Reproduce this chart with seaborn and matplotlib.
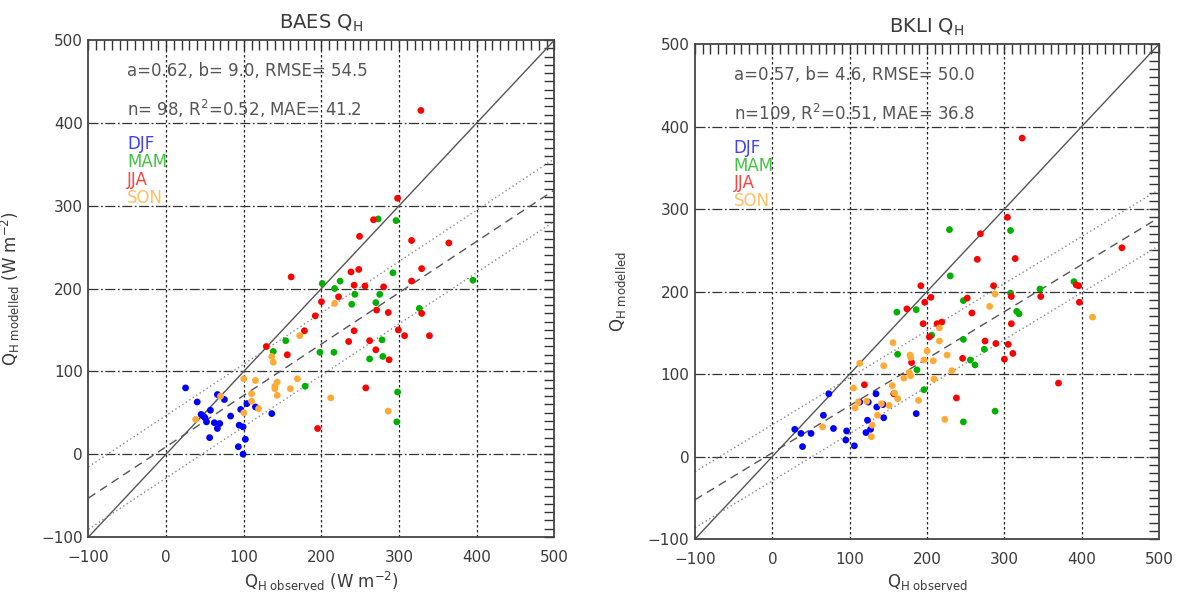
import matplotlib
matplotlib.use("Agg")
import matplotlib.pyplot as plt
from matplotlib.ticker import MultipleLocator
import seaborn as sns
import pandas as pd

# season colours
seasons = ["DJF", "MAM", "JJA", "SON"]
season_colors = {"DJF": "#0000ff", "MAM": "#00b000", "JJA": "#ff0000", "SON": "#ffaa33"}

# BAES
baes_djf_obs = [25, 40, 66, 75, 57, 45, 48, 50, 52, 62, 69, 66, 83, 56, 96, 104, 115, 136, 94, 99, 102, 93, 99]
baes_djf_mod = [80, 63, 72, 66, 53, 48, 46, 44, 39, 38, 37, 31, 46, 20, 54, 61, 57, 49, 35, 33, 18, 9, 0]
baes_mam_obs = [138, 154, 179, 198, 216, 239, 270, 278, 262, 279, 326, 298, 297, 273, 296, 292, 201, 224, 395, 217, 243, 275]
baes_mam_mod = [124, 137, 82, 123, 123, 181, 183, 138, 115, 118, 176, 75, 39, 284, 282, 219, 206, 209, 210, 200, 193, 193]
baes_jja_obs = [129, 156, 178, 192, 200, 222, 242, 235, 262, 271, 286, 270, 287, 299, 307, 329, 339, 257, 195, 328,
                298, 267, 249, 316, 364, 161, 238, 248, 329, 242, 256, 280, 316]
baes_jja_mod = [130, 120, 149, 167, 184, 190, 149, 136, 137, 174, 171, 126, 114, 150, 143, 170, 143, 80, 31, 415,
                309, 283, 263, 258, 255, 214, 220, 223, 224, 204, 203, 202, 209]
baes_son_obs = [38, 70, 100, 100, 110, 110, 115, 119, 136, 138, 140, 140, 143, 143, 160, 169, 172, 212, 286, 217]
baes_son_mod = [42, 70, 91, 50, 73, 64, 89, 55, 118, 111, 82, 79, 87, 71, 79, 91, 143, 68, 52, 182]

# BKLI
bkli_djf_obs = [29, 37, 50, 39, 73, 66, 79, 96, 95, 106, 121, 127, 123, 134, 135, 143, 144, 113, 124, 186]
bkli_djf_mod = [33, 28, 28, 12, 76, 50, 34, 31, 20, 13, 29, 33, 44, 76, 60, 63, 47, 66, 66, 52]
bkli_mam_obs = [161, 186, 162, 187, 196, 206, 229, 230, 247, 247, 247, 256, 262, 274, 288, 308, 308, 316, 319, 346, 390]
bkli_mam_mod = [175, 178, 124, 105, 81, 147, 275, 219, 189, 142, 42, 117, 111, 130, 55, 274, 198, 176, 173, 203, 212]
bkli_jja_obs = [119, 157, 174, 180, 192, 197, 203, 205, 195, 213, 219, 238, 246, 252, 258, 265, 269, 275, 286, 289,
                300, 304, 305, 309, 309, 311, 314, 323, 347, 370, 393, 396, 397, 452]
bkli_jja_mod = [87, 76, 179, 114, 207, 187, 145, 193, 161, 161, 163, 71, 119, 192, 174, 239, 270, 140, 207, 137,
                118, 290, 136, 194, 161, 125, 240, 386, 194, 89, 208, 207, 187, 253]
bkli_son_obs = [65, 105, 107, 111, 113, 122, 128, 129, 136, 141, 144, 151, 155, 156, 158, 162, 170, 177, 179, 178,
                179, 189, 196, 200, 208, 209, 216, 216, 223, 226, 232, 281, 288, 414]
bkli_son_mod = [36, 83, 59, 66, 113, 67, 24, 38, 50, 64, 110, 62, 86, 138, 77, 70, 95, 102, 98, 123,
                120, 68, 117, 128, 116, 94, 156, 140, 45, 123, 104, 182, 197, 169]

# fit statistics
baes_stats = {"a": 0.62, "b": 9.0, "rmse": 54.5, "n": 98, "r2": 0.52, "mae": 41.2, "band": 37.7}
bkli_stats = {"a": 0.57, "b": 4.6, "rmse": 50.0, "n": 109, "r2": 0.51, "mae": 36.8, "band": 34.0}


def make_df(obs_lists, mod_lists):
    frames = []
    for s, o, m in zip(seasons, obs_lists, mod_lists):
        frames.append(pd.DataFrame({"obs": o, "mod": m, "season": s}))
    return pd.concat(frames, ignore_index=True)


baes_df = make_df([baes_djf_obs, baes_mam_obs, baes_jja_obs, baes_son_obs],
                  [baes_djf_mod, baes_mam_mod, baes_jja_mod, baes_son_mod])
bkli_df = make_df([bkli_djf_obs, bkli_mam_obs, bkli_jja_obs, bkli_son_obs],
                  [bkli_djf_mod, bkli_mam_mod, bkli_jja_mod, bkli_son_mod])

sns.set_style("white")
plt.rcParams["font.family"] = ["DejaVu Sans"]
plt.rcParams["mathtext.fontset"] = "dejavusans"

txt_col = "#3a3a3a"
fig = plt.figure(figsize=(11.81, 5.92), dpi=100)
ax1 = fig.add_axes([0.0749, 0.0929, 0.3946, 0.8395])
ax2 = fig.add_axes([0.5885, 0.0895, 0.3929, 0.8361])


def draw_panel(ax, df, st, title, xlab, ylab):
    lo, hi = -100, 500
    # grid
    for v in range(0, 500, 100):
        ax.axvline(v, color="#222222", lw=0.9, ls=(0, (2, 2)), zorder=1)
        ax.axhline(v, color="#333333", lw=0.9, ls=(0, (8, 2, 1.5, 2)), zorder=1)
    xs = [lo, hi]
    ax.plot(xs, xs, color="#555555", lw=1.0, zorder=2)
    fit = [st["a"] * x + st["b"] for x in xs]
    ax.plot(xs, fit, color="#555555", lw=1.0, ls=(0, (6, 4)), zorder=2)
    ax.plot(xs, [f + st["band"] for f in fit], color="#888888", lw=1.0, ls=(0, (1, 2)), zorder=2)
    ax.plot(xs, [f - st["band"] for f in fit], color="#888888", lw=1.0, ls=(0, (1, 2)), zorder=2)

    sns.scatterplot(data=df, x="obs", y="mod", hue="season", hue_order=seasons,
                    palette=season_colors, s=24, linewidth=0, legend=False, ax=ax, zorder=3)

    ax.set_xlim(lo, hi)
    ax.set_ylim(lo, hi)
    ax.set_xticks(range(lo, hi + 1, 100))
    ax.set_yticks(range(lo, hi + 1, 100))
    ax.xaxis.set_minor_locator(MultipleLocator(10))
    ax.yaxis.set_minor_locator(MultipleLocator(10))
    ax.tick_params(which="both", direction="in", top=True, right=True, length=7,
                   width=1, color="#333333", labelsize=11, labelcolor=txt_col)
    ax.tick_params(axis="x", pad=9)
    ax.tick_params(axis="y", pad=4)
    for sp in ax.spines.values():
        sp.set_color("#444444")
        sp.set_linewidth(1.3)

    ax.set_title(title, fontsize=14, color=txt_col, pad=8)
    ax.set_xlabel(xlab, fontsize=12, color=txt_col, labelpad=4)
    ax.set_ylabel(ylab, fontsize=12, color=txt_col, labelpad=14)

    ax.text(-50, 463, "a=%.2f, b=%4.1f, RMSE= %.1f" % (st["a"], st["b"], st["rmse"]),
            fontsize=12, color="#555555", va="center")
    ax.text(-50, 417, "n=%3d, R$^2$=%.2f, MAE= %.1f" % (st["n"], st["r2"], st["mae"]),
            fontsize=12, color="#555555", va="center")
    for i, s in enumerate(seasons):
        ax.text(-50, 374 - 21.5 * i, s, fontsize=12, color=season_colors[s], va="center", alpha=0.75)


draw_panel(ax1, baes_df, baes_stats, r"BAES Q$_\mathregular{H}$",
           r"Q$_\mathregular{H\ observed}$ (W m$^{-2}$)", r"Q$_\mathregular{H\ modelled}$ (W m$^{-2}$)")
draw_panel(ax2, bkli_df, bkli_stats, r"BKLI Q$_\mathregular{H}$",
           r"Q$_\mathregular{H\ observed}$", r"Q$_\mathregular{H\ modelled}$")

fig.savefig("out.png", dpi=100)
